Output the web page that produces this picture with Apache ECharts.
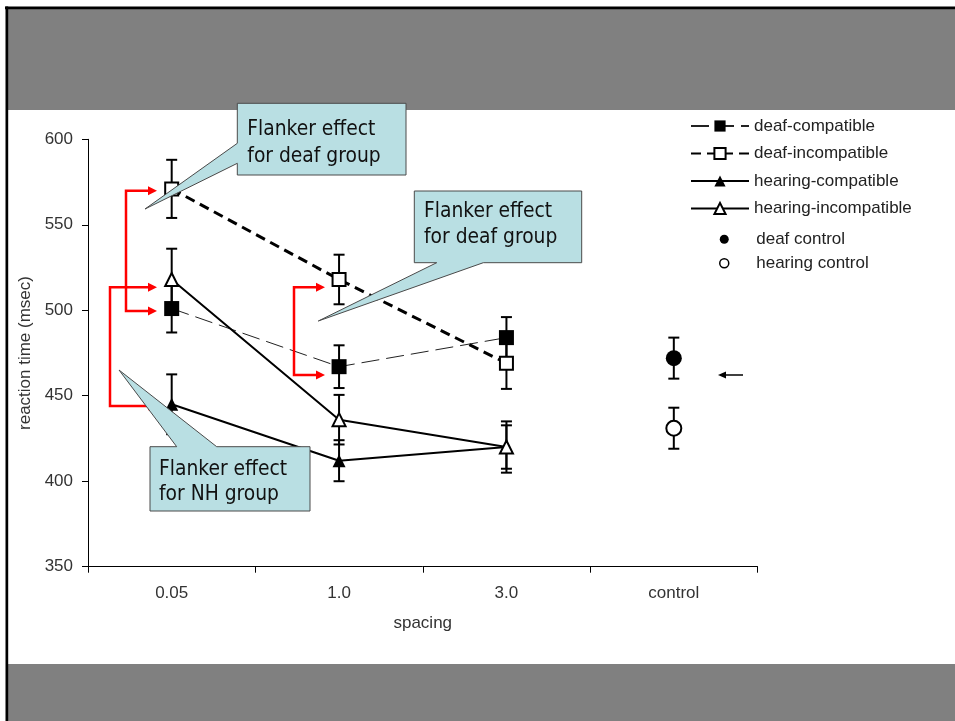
<!DOCTYPE html>
<html>
<head>
<meta charset="utf-8">
<script src="https://cdn.jsdelivr.net/npm/echarts@6/dist/echarts.min.js"></script>
<style>
html,body{margin:0;padding:0;background:#fff;}
#chart{width:955px;height:721px;}
</style>
</head>
<body>
<div id="chart"></div>
<script>
// ---- data ----
const categories = ['0.05', '1.0', '3.0', 'control'];
const deafCompatible = [501, 467, 484, null];
const deafCompatibleErr = [14, 12.5, 12, null];
const deafIncompatible = [571, 518, 469, null];
const deafIncompatibleErr = [17, 14.5, 15, null];
const hearingCompatible = [445, 412, 420, null];
const hearingCompatibleErr = [17.5, 12, 12.7, null];
const hearingIncompatible = [518, 436, 420, null];
const hearingIncompatibleErr = [18, 14.5, 15, null];
const deafControl = [null, null, null, 472];
const deafControlErr = [null, null, null, 12];
const hearingControl = [null, null, null, 431];
const hearingControlErr = [null, null, null, 12];
const yMin = 350, yMax = 600, yStep = 50;

const AXIS_FONT = '"Liberation Sans", Arial, sans-serif';
const CALLOUT_FONT = '"DejaVu Sans Condensed", "DejaVu Sans", sans-serif';

function errData(vals, errs) {
  const out = [];
  vals.forEach((v, i) => {
    if (v != null && errs[i] != null) out.push([i, v - errs[i], v + errs[i]]);
  });
  return out;
}

function errRender(params, api) {
  const x = api.value(0);
  const lo = api.coord([x, api.value(1)]);
  const hi = api.coord([x, api.value(2)]);
  const hw = 5.5;
  const st = { stroke: '#000', lineWidth: 2 };
  return {
    type: 'group',
    children: [
      { type: 'line', shape: { x1: hi[0], y1: hi[1], x2: lo[0], y2: lo[1] }, style: st },
      { type: 'line', shape: { x1: hi[0] - hw, y1: hi[1], x2: hi[0] + hw, y2: hi[1] }, style: st },
      { type: 'line', shape: { x1: lo[0] - hw, y1: lo[1], x2: lo[0] + hw, y2: lo[1] }, style: st }
    ]
  };
}

function errSeries(vals, errs) {
  return {
    type: 'custom', renderItem: errRender, data: errData(vals, errs),
    encode: { x: 0, y: [1, 2] }, z: 1, silent: true
  };
}

const blackFill = { color: '#000', borderColor: '#000', borderWidth: 0, opacity: 1 };
const openFill = { color: '#fff', borderColor: '#000', borderWidth: 2, opacity: 1 };

// ---- annotation graphics (pixel layout) ----
function callout(points, lines, tx, z) {
  const els = [{
    type: 'polygon', shape: { points: points }, z: z,
    style: { fill: '#b9dfe3', stroke: '#4a4a4a', lineWidth: 1 }
  }];
  lines.forEach(l => {
    els.push({
      type: 'text', x: tx, y: l[1], z: z + 1,
      style: { text: l[0], font: '20.8px ' + CALLOUT_FONT, fill: '#111', align: 'left', verticalAlign: 'middle', textAlign: 'left', textVerticalAlign: 'middle' }
    });
  });
  return els;
}

function arrowHead(tipX, tipY, dir, color, len, half, z) {
  return {
    type: 'polygon', z: z,
    shape: { points: [[tipX, tipY], [tipX - dir * len, tipY - half], [tipX - dir * len, tipY + half]] },
    style: { fill: color, stroke: null }
  };
}

function bracket(xv, yTop, yBot, xTip, z) {
  const red = '#ff0000';
  return [
    { type: 'polyline', z: z, shape: { points: [[xTip - 8, yTop], [xv, yTop], [xv, yBot], [xTip - 8, yBot]] },
      style: { stroke: red, lineWidth: 2.5, fill: null } },
    arrowHead(xTip, yTop, 1, red, 9, 4.5, z),
    arrowHead(xTip, yBot, 1, red, 9, 4.5, z)
  ];
}

const graphics = [
  { type: 'rect', shape: { x: 8, y: 9, width: 947, height: 101 }, style: { fill: '#808080' }, z: 0 },
  { type: 'rect', shape: { x: 8, y: 664, width: 947, height: 57 }, style: { fill: '#808080' }, z: 0 },
  { type: 'rect', shape: { x: 5, y: 6.5, width: 950, height: 2.7 }, style: { fill: '#000' }, z: 0 },
  { type: 'rect', shape: { x: 5.5, y: 6.5, width: 2.7, height: 715 }, style: { fill: '#000' }, z: 0 },
  // arrow next to control
  { type: 'line', shape: { x1: 724, y1: 375, x2: 743, y2: 375 }, style: { stroke: '#000', lineWidth: 1.5 }, z: 60 },
  arrowHead(718, 375, -1, '#000', 8, 3.5, 60)
]
  .concat(bracket(126, 190.7, 311, 157, 50))
  .concat(bracket(110, 287.3, 406, 157, 50))
  .concat(bracket(294, 287.3, 375, 325, 50))
  .concat(callout([[237.3, 103.3], [406, 103.3], [406, 175], [237.3, 175], [237.3, 163.3], [145, 209], [237.3, 143.3]],
    [['Flanker effect', 130], ['for deaf group', 156.5]], 247.3, 100))
  .concat(callout([[414.3, 191], [581.7, 191], [581.7, 262.7], [483.3, 262.7], [318.3, 321], [436.7, 262.7], [414.3, 262.7]],
    [['Flanker effect', 211.5], ['for deaf group', 237.5]], 424, 100))
  .concat(callout([[150, 446.7], [176.7, 446.7], [119, 370], [216.7, 446.7], [310, 446.7], [310, 511], [150, 511]],
    [['Flanker effect', 469.5], ['for NH group', 495]], 159, 100));

const chart = echarts.init(document.getElementById('chart'), null, { renderer: 'canvas' });

const option = {
  animation: false,
  backgroundColor: '#fff',
  grid: { left: 88, right: 197.5, top: 139.3, bottom: 154.3, containLabel: false },
  legend: [
    {
      data: ['deaf-compatible', 'deaf-incompatible', 'hearing-compatible', 'hearing-incompatible'],
      orient: 'vertical', align: 'left', padding: 0, left: 690, top: 117.5,
      itemWidth: 58, itemHeight: 14, itemGap: 10.5,
      selectedMode: false,
      textStyle: { fontSize: 17, fontFamily: AXIS_FONT, color: '#222' }
    },
    {
      data: [
        { name: 'deaf control', icon: 'circle', itemStyle: { borderWidth: 0 } },
        { name: 'hearing control', icon: 'circle', itemStyle: { borderWidth: 1.5 } }
      ],
      orient: 'vertical', align: 'left', padding: 0, left: 719, top: 230.8,
      itemWidth: 54, itemHeight: 9, itemGap: 7,
      selectedMode: false,
      textStyle: { fontSize: 17, fontFamily: AXIS_FONT, color: '#222' }
    }
  ],
  xAxis: {
    type: 'category', data: categories, boundaryGap: true,
    axisLine: { lineStyle: { color: '#000', width: 1 } },
    axisTick: { show: true, length: 6, lineStyle: { color: '#000' } },
    axisLabel: { fontSize: 17, fontFamily: AXIS_FONT, color: '#333', margin: 18 },
    name: 'spacing', nameLocation: 'middle', nameGap: 48,
    nameTextStyle: { fontSize: 17, fontFamily: AXIS_FONT, color: '#333' },
    splitLine: { show: false }
  },
  yAxis: {
    type: 'value', min: yMin, max: yMax, interval: yStep,
    axisLine: { show: true, lineStyle: { color: '#000', width: 1 } },
    axisTick: { show: true, length: 6, lineStyle: { color: '#000' } },
    axisLabel: { fontSize: 17, fontFamily: AXIS_FONT, color: '#333', margin: 15 },
    name: 'reaction time (msec)', nameLocation: 'middle', nameGap: 54,
    nameTextStyle: { fontSize: 17, fontFamily: AXIS_FONT, color: '#333' },
    splitLine: { show: false }
  },
  graphic: { elements: graphics },
  series: [
    errSeries(deafCompatible, deafCompatibleErr),
    errSeries(deafIncompatible, deafIncompatibleErr),
    errSeries(hearingCompatible, hearingCompatibleErr),
    errSeries(hearingIncompatible, hearingIncompatibleErr),
    errSeries(deafControl, deafControlErr),
    errSeries(hearingControl, hearingControlErr),
    {
      name: 'deaf-compatible', type: 'line', data: deafCompatible, z: 3,
      symbol: 'rect', symbolSize: 15, showSymbol: true,
      lineStyle: { color: '#222', width: 1, type: [18, 7] },
      itemStyle: blackFill
    },
    {
      name: 'deaf-incompatible', type: 'line', data: deafIncompatible, z: 3,
      symbol: 'rect', symbolSize: 13, showSymbol: true,
      lineStyle: { color: '#000', width: 3, type: [10, 6] },
      itemStyle: openFill
    },
    {
      name: 'hearing-compatible', type: 'line', data: hearingCompatible, z: 3,
      symbol: 'triangle', symbolSize: 13, showSymbol: true,
      lineStyle: { color: '#000', width: 2 },
      itemStyle: blackFill
    },
    {
      name: 'hearing-incompatible', type: 'line', data: hearingIncompatible, z: 3,
      symbol: 'triangle', symbolSize: 13, showSymbol: true,
      lineStyle: { color: '#000', width: 2 },
      itemStyle: openFill
    },
    {
      name: 'deaf control', type: 'scatter', data: deafControl, z: 3,
      symbol: 'circle', symbolSize: 16, itemStyle: blackFill
    },
    {
      name: 'hearing control', type: 'scatter', data: hearingControl, z: 3,
      symbol: 'circle', symbolSize: 15, itemStyle: openFill
    }
  ]
};
chart.setOption(option);
</script>
</body>
</html>
